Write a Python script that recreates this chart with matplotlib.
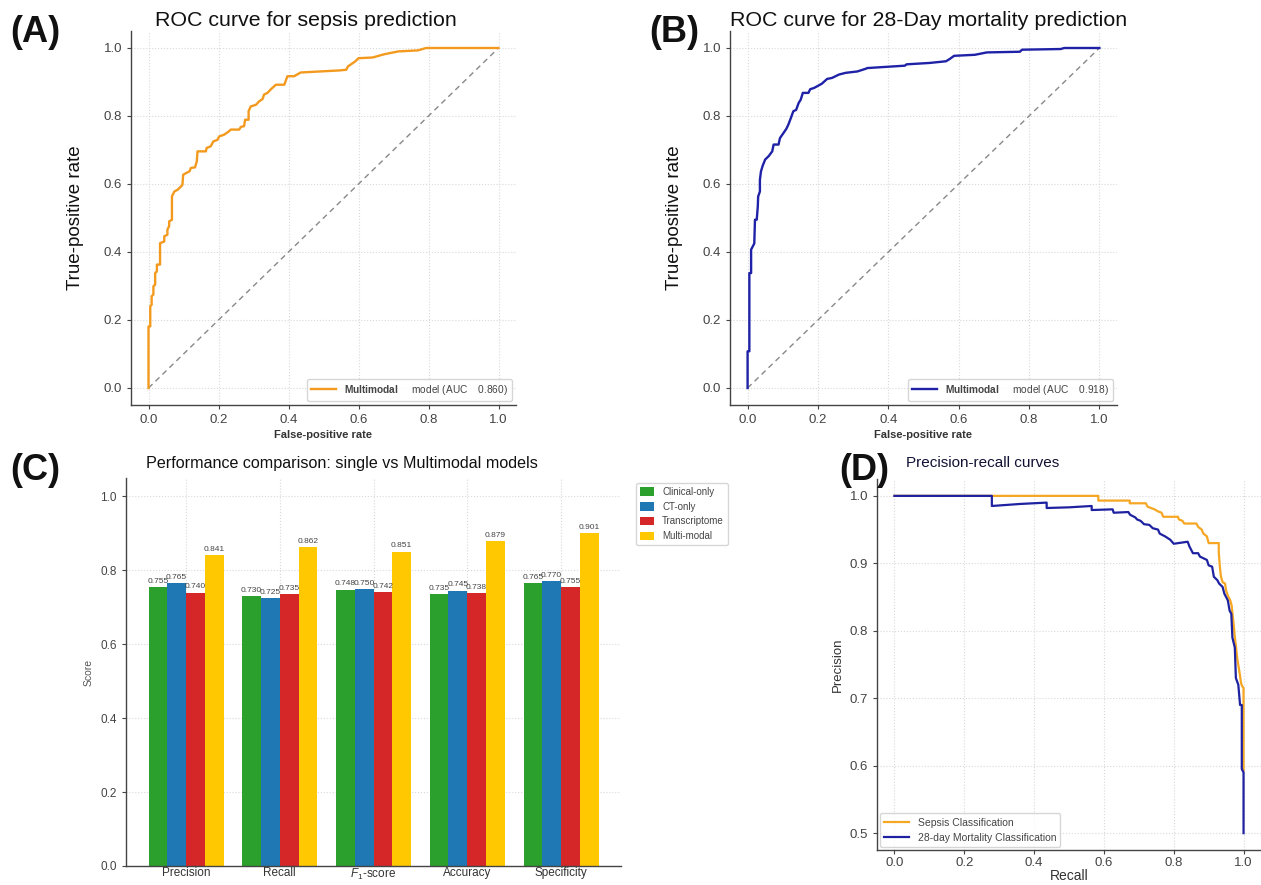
import numpy as np
import matplotlib
matplotlib.use("Agg")
import matplotlib.pyplot as plt

plt.rcParams["font.family"] = ["Liberation Sans", "DejaVu Sans"]
plt.rcParams["mathtext.fontset"] = "custom"
plt.rcParams["mathtext.rm"] = "Liberation Sans"
plt.rcParams["mathtext.it"] = "Liberation Sans:italic"
plt.rcParams["mathtext.bf"] = "Liberation Sans:bold"

# ---------------- data ----------------
# ROC curve, sepsis prediction (multimodal model)
sepsis_fpr = [0.0, 0.0, 0.005, 0.005, 0.009, 0.009, 0.014, 0.014, 0.019, 0.019, 0.024, 0.024,
              0.033, 0.033, 0.045, 0.045, 0.054, 0.054, 0.059, 0.059, 0.067, 0.067, 0.074, 0.083,
              0.088, 0.093, 0.097, 0.099, 0.107, 0.117, 0.121, 0.133, 0.138, 0.140, 0.164, 0.166,
              0.178, 0.185, 0.197, 0.202, 0.216, 0.230, 0.235, 0.259, 0.264, 0.273, 0.276, 0.286,
              0.286, 0.292, 0.307, 0.316, 0.326, 0.330, 0.340, 0.350, 0.364, 0.388, 0.397, 0.416,
              0.435, 0.490, 0.545, 0.565, 0.570, 0.590, 0.600, 0.640, 0.675, 0.714, 0.770, 0.793, 1.0]
sepsis_tpr = [0.0, 0.181, 0.181, 0.240, 0.245, 0.270, 0.275, 0.299, 0.304, 0.338, 0.343, 0.363,
              0.363, 0.426, 0.431, 0.446, 0.451, 0.466, 0.476, 0.490, 0.495, 0.564, 0.578, 0.583,
              0.588, 0.593, 0.598, 0.627, 0.632, 0.637, 0.647, 0.649, 0.667, 0.696, 0.696, 0.706,
              0.711, 0.725, 0.730, 0.740, 0.745, 0.755, 0.760, 0.760, 0.768, 0.770, 0.789, 0.789,
              0.814, 0.828, 0.833, 0.843, 0.850, 0.863, 0.868, 0.879, 0.892, 0.892, 0.917, 0.917,
              0.928, 0.931, 0.934, 0.936, 0.946, 0.960, 0.970, 0.972, 0.982, 0.990, 0.993, 1.0, 1.0]
sepsis_auc = 0.860

# ROC curve, 28-day mortality prediction (multimodal model)
mort_fpr = [0.0, 0.0, 0.005, 0.005, 0.010, 0.010, 0.019, 0.021, 0.026, 0.029, 0.030, 0.035,
            0.035, 0.038, 0.043, 0.050, 0.060, 0.070, 0.074, 0.088, 0.092, 0.102, 0.110, 0.116,
            0.123, 0.130, 0.138, 0.145, 0.151, 0.157, 0.173, 0.178, 0.188, 0.197, 0.211, 0.226,
            0.240, 0.260, 0.279, 0.312, 0.336, 0.340, 0.447, 0.452, 0.517, 0.564, 0.575, 0.587,
            0.646, 0.680, 0.774, 0.780, 0.890, 0.900, 1.0]
mort_tpr = [0.0, 0.108, 0.108, 0.338, 0.338, 0.407, 0.425, 0.495, 0.495, 0.534, 0.563, 0.578,
            0.612, 0.637, 0.654, 0.672, 0.682, 0.696, 0.716, 0.716, 0.735, 0.750, 0.762, 0.775,
            0.794, 0.814, 0.818, 0.838, 0.848, 0.868, 0.868, 0.879, 0.882, 0.887, 0.895, 0.909,
            0.912, 0.922, 0.927, 0.931, 0.939, 0.941, 0.948, 0.952, 0.956, 0.961, 0.968, 0.977,
            0.980, 0.987, 0.989, 0.995, 0.997, 1.0, 1.0]
mort_auc = 0.918

# Bar chart: single-modality vs multimodal models
metrics = ["Precision", "Recall", "$F_1$-score", "Accuracy", "Specificity"]
models = ["Clinical-only", "CT-only", "Transcriptome", "Multi-modal"]
clinical_only = [0.755, 0.730, 0.748, 0.735, 0.765]
ct_only = [0.765, 0.725, 0.750, 0.745, 0.770]
transcriptome = [0.740, 0.735, 0.742, 0.738, 0.755]
multi_modal = [0.841, 0.862, 0.851, 0.879, 0.901]

# Precision-recall curves
pr_sepsis_recall = [0.0, 0.584, 0.584, 0.674, 0.674, 0.720, 0.725, 0.735, 0.745, 0.755, 0.765,
                    0.770, 0.812, 0.815, 0.825, 0.830, 0.865, 0.870, 0.880, 0.885, 0.895, 0.900,
                    0.929, 0.929, 0.932, 0.935, 0.940, 0.947, 0.950, 0.955, 0.962, 0.966, 0.968,
                    0.972, 0.975, 0.978, 0.982, 0.985, 0.988, 0.993, 0.996, 1.0, 1.0]
pr_sepsis_prec = [1.0, 1.0, 0.993, 0.993, 0.989, 0.989, 0.984, 0.982, 0.980, 0.977, 0.975,
                  0.969, 0.969, 0.965, 0.963, 0.959, 0.959, 0.954, 0.950, 0.944, 0.940, 0.930,
                  0.930, 0.916, 0.896, 0.881, 0.872, 0.870, 0.860, 0.852, 0.845, 0.837, 0.827,
                  0.808, 0.790, 0.778, 0.759, 0.749, 0.740, 0.722, 0.718, 0.715, 0.593]
pr_mort_recall = [0.0, 0.279, 0.279, 0.360, 0.436, 0.436, 0.500, 0.565, 0.565, 0.625, 0.628,
                  0.670, 0.675, 0.690, 0.695, 0.705, 0.715, 0.730, 0.740, 0.755, 0.760, 0.775,
                  0.790, 0.800, 0.840, 0.845, 0.855, 0.870, 0.875, 0.895, 0.900, 0.910, 0.915,
                  0.925, 0.930, 0.940, 0.945, 0.955, 0.960, 0.965, 0.968, 0.975, 0.978, 0.985,
                  0.990, 0.995, 0.995, 1.0, 1.0]
pr_mort_prec = [1.0, 1.0, 0.985, 0.988, 0.990, 0.982, 0.983, 0.985, 0.979, 0.980, 0.975,
                0.976, 0.972, 0.968, 0.965, 0.963, 0.958, 0.957, 0.952, 0.950, 0.944, 0.940,
                0.935, 0.929, 0.932, 0.925, 0.915, 0.915, 0.910, 0.905, 0.897, 0.895, 0.880,
                0.875, 0.870, 0.865, 0.855, 0.845, 0.830, 0.825, 0.790, 0.775, 0.730, 0.720,
                0.690, 0.690, 0.595, 0.590, 0.500]

# ---------------- styling helpers ----------------
W, H = 1261, 885
ORANGE_A = "#F39A1E"
BLUE_B = "#1F22A6"
ORANGE_D = "#F5A623"
BLUE_D = "#1E22A0"
GRID = dict(color="#d9d9d9", linestyle=":", linewidth=0.8)


def px_axes(fig, left, top, right, bottom):
    return fig.add_axes([left / W, (H - bottom) / H, (right - left) / W, (bottom - top) / H])


def style_axes(ax, tick_size=9):
    for side in ("top", "right"):
        ax.spines[side].set_visible(False)
    for side in ("left", "bottom"):
        ax.spines[side].set_color("#444444")
        ax.spines[side].set_linewidth(1.0)
    ax.tick_params(axis="both", labelsize=tick_size, colors="#444444", length=3, width=0.8,
                   direction="out")
    ax.grid(True, **GRID)
    ax.set_axisbelow(True)


def fig_text(x, y, s, **kw):
    fig.text(x / W, 1 - y / H, s, **kw)


fig = plt.figure(figsize=(W / 100, H / 100), dpi=100)
fig.patch.set_facecolor("white")

# ---------------- (A) ROC sepsis ----------------
axA = px_axes(fig, 131, 31, 516, 405)
style_axes(axA, 9.5)
axA.plot([0, 1], [0, 1], linestyle="--", color="#888888", linewidth=1.0, dashes=(4, 3))
axA.plot(sepsis_fpr, sepsis_tpr, color=ORANGE_A, linewidth=1.7,
         label=r"$\bf{Multimodal}$     model (AUC    " + f"{sepsis_auc:.3f})")
axA.set_xlim(-0.05, 1.05)
axA.set_ylim(-0.05, 1.05)
axA.set_xticks(np.arange(0, 1.01, 0.2))
axA.set_yticks(np.arange(0, 1.01, 0.2))
axA.set_xlabel("False-positive rate", fontsize=8, fontweight="bold", color="#333333", labelpad=3)
axA.set_ylabel("True-positive rate", fontsize=13.5, color="#111111", labelpad=14)
axA.legend(loc="lower right", fontsize=7.3, frameon=True, edgecolor="#cccccc",
           handlelength=2.4, borderaxespad=0.4, labelcolor="#444444")
fig_text(306, 20, "ROC curve for sepsis prediction", fontsize=15.4, ha="center", va="center",
         color="#111111")
fig_text(35, 33, "(A)", fontsize=26, fontweight="bold", ha="center", va="center",
         color="#111111")

# ---------------- (B) ROC mortality ----------------
axB = px_axes(fig, 730, 31, 1117, 405)
style_axes(axB, 9.5)
axB.plot([0, 1], [0, 1], linestyle="--", color="#888888", linewidth=1.0, dashes=(4, 3))
axB.plot(mort_fpr, mort_tpr, color=BLUE_B, linewidth=1.7,
         label=r"$\bf{Multimodal}$     model (AUC    " + f"{mort_auc:.3f})")
axB.set_xlim(-0.05, 1.05)
axB.set_ylim(-0.05, 1.05)
axB.set_xticks(np.arange(0, 1.01, 0.2))
axB.set_yticks(np.arange(0, 1.01, 0.2))
axB.set_xlabel("False-positive rate", fontsize=8, fontweight="bold", color="#333333", labelpad=3)
axB.set_ylabel("True-positive rate", fontsize=13.5, color="#111111", labelpad=14)
axB.legend(loc="lower right", fontsize=7.3, frameon=True, edgecolor="#cccccc",
           handlelength=2.4, borderaxespad=0.4, labelcolor="#444444")
fig_text(929, 20, "ROC curve for 28-Day mortality prediction", fontsize=15.4, ha="center",
         va="center", color="#111111")
fig_text(674, 33, "(B)", fontsize=26, fontweight="bold", ha="center", va="center",
         color="#111111")

# ---------------- (C) grouped bars ----------------
axC = px_axes(fig, 126, 478, 621, 866)
style_axes(axC, 8.5)
axC.tick_params(axis="x", pad=1, length=0)
x = np.arange(len(metrics))
width = 0.2
series = [clinical_only, ct_only, transcriptome, multi_modal]
colors = ["#2ca02c", "#1f77b4", "#d62728", "#ffc800"]
for i, (vals, name, col) in enumerate(zip(series, models, colors)):
    bars = axC.bar(x + (i - 1.5) * width, vals, width, color=col, label=name)
    for b, v in zip(bars, vals):
        axC.text(b.get_x() + b.get_width() / 2, v + 0.006, f"{v:.3f}", ha="center",
                 va="bottom", fontsize=6.0, color="#444444")
axC.set_xticks(x)
axC.set_xticklabels(metrics, fontsize=8.5, color="#333333")
axC.set_ylim(0, 1.05)
axC.set_yticks(np.arange(0, 1.01, 0.2))
axC.set_ylabel("Score", fontsize=7.5, color="#555555", labelpad=5)
axC.legend(loc="upper left", bbox_to_anchor=(1.02, 1.0), fontsize=7, frameon=True,
           edgecolor="#cccccc", handlelength=1.5, handleheight=1.0, labelcolor="#444444")
fig_text(342, 463, "Performance comparison: single vs Multimodal models", fontsize=11.6,
         ha="center", va="center", color="#111111")
fig_text(35, 470, "(C)", fontsize=26, fontweight="bold", ha="center", va="center",
         color="#111111")

# ---------------- (D) precision-recall ----------------
axD = px_axes(fig, 877, 479, 1261, 850)
style_axes(axD, 9.5)
axD.tick_params(axis="x", pad=2)
axD.plot(pr_sepsis_recall, pr_sepsis_prec, color=ORANGE_D, linewidth=1.6,
         label="Sepsis Classification")
axD.plot(pr_mort_recall, pr_mort_prec, color=BLUE_D, linewidth=1.6,
         label="28-day Mortality Classification")
axD.set_xlim(-0.05, 1.05)
axD.set_ylim(0.475, 1.025)
axD.set_xticks(np.arange(0, 1.01, 0.2))
axD.set_yticks(np.arange(0.5, 1.01, 0.1))
axD.set_xlabel("Recall", fontsize=10, color="#333333", labelpad=0)
axD.set_ylabel("Precision", fontsize=9.5, color="#333333", labelpad=4)
axD.legend(loc="lower left", fontsize=7.5, frameon=True, edgecolor="#cccccc",
           handlelength=2.4, borderaxespad=0.3, labelcolor="#444444")
fig_text(983, 463, "Precision-recall curves", fontsize=11, ha="center", va="center",
         color="#111133")
fig_text(864, 470, "(D)", fontsize=26, fontweight="bold", ha="center", va="center",
         color="#111111")

fig.savefig("out.png", dpi=100, facecolor="white")
